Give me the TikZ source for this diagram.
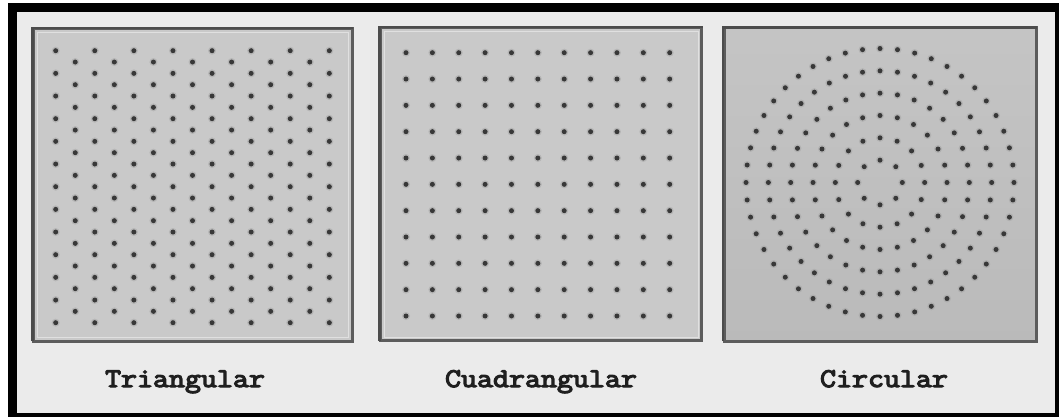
\documentclass[tikz,border=0pt]{standalone}
\usepackage{fontspec}
\newfontfamily\capfont{Latin Modern Mono}[FakeStretch=1.15,FakeBold=4.5]
\begin{document}
\begin{tikzpicture}[x=1pt,y=-1pt,
  panelbox/.style={fill=#1,draw=gray!72!black,line width=3pt},
  lightedge/.style={draw=white!88!black,line width=0.8pt},
  darkedge/.style={draw=black!70,line width=2.2pt},
  dothalo/.style={fill=black!40,opacity=0.4},
  dotcore/.style={fill=black!78},
  caption/.style={font=\capfont\fontsize{27}{30}\selectfont,text=black!88,inner sep=0pt,anchor=base}]
\useasboundingbox (0,0) rectangle (1059,417);
% outer frame
\fill[white] (0,0) rectangle (1059,417);
\fill[black] (8,3) rectangle (1059,417);
\fill[white!92!black] (17,12) rectangle (1055,413);
% panels
\draw[panelbox=white!79!black] (33.5,28.5) rectangle (352,341);
\draw[lightedge] (37,32) rectangle (348.5,337.5);
\draw[darkedge] (32.5,341) -- (32.5,28) -- (353,28);
\draw[panelbox=white!79!black] (380.5,27.5) rectangle (701.5,340.5);
\draw[lightedge] (384,31) rectangle (698,337);
\draw[darkedge] (379.5,340.5) -- (379.5,27) -- (702.5,27);
\shade[top color=white!77!black,bottom color=white!73!black] (724,28) rectangle (1036,341);
\draw[draw=gray!72!black,line width=3pt] (724,28) rectangle (1036,341);
\draw[darkedge] (723,341) -- (723,27.5) -- (1037,27.5);
% triangular pattern
\foreach \r in {0,...,24}{
  \pgfmathsetmacro\yy{50.7+11.333*\r}
  \ifodd\r
    \foreach \i in {0,...,6}{
      \fill[dothalo] ({75.25+39.09*\i},\yy) circle (4);
      \fill[dotcore] ({75.25+39.09*\i},\yy) circle (2.5);
    }
  \else
    \foreach \i in {0,...,7}{
      \fill[dothalo] ({55.7+39.09*\i},\yy) circle (4);
      \fill[dotcore] ({55.7+39.09*\i},\yy) circle (2.5);
    }
  \fi
}
% square pattern
\foreach \r in {0,...,10}{
  \foreach \i in {0,...,10}{
    \fill[dothalo] ({406+26.37*\i},{52.7+26.33*\r}) circle (4);
    \fill[dotcore] ({406+26.37*\i},{52.7+26.33*\r}) circle (2.5);
  }
}
% circular pattern
\foreach \k in {1,...,6}{
  \pgfmathtruncatemacro\nn{8*\k-1}
  \foreach \j in {0,...,\nn}{
    \fill[dothalo] ({880+22.33*\k*cos(\j*45/\k)},{182.5+22.33*\k*sin(\j*45/\k)}) circle (4);
    \fill[dotcore] ({880+22.33*\k*cos(\j*45/\k)},{182.5+22.33*\k*sin(\j*45/\k)}) circle (2.5);
  }
}
% captions
\node[caption] (tri) at (185,387) {Triangular};
\node[caption] (cua) at (541,387) {Cuadrangular};
\node[caption] (cir) at (884,387) {Circular};
\end{tikzpicture}
\end{document}
